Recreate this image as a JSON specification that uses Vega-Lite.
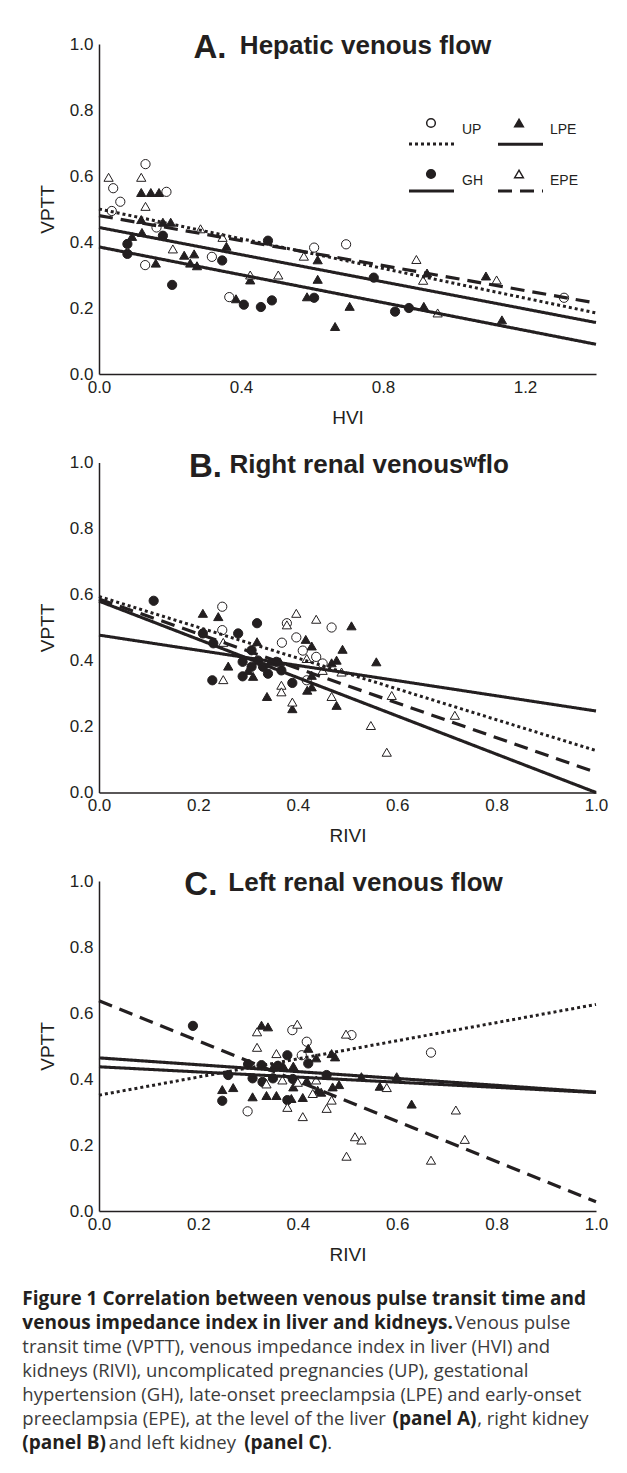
{
  "$schema": "https://vega.github.io/schema/vega-lite/v6.json",
  "background": "white",
  "padding": {"left": 22, "top": 32, "right": 5, "bottom": 5},
  "spacing": 23.5,
  "title": {
    "text": ["Figure 1 Correlation between venous pulse transit time and", "venous impedance index in liver and kidneys.", "\u200b", "\u200b", "\u200b", "\u200b\u00a0\u00a0\u00a0\u00a0\u00a0\u00a0\u00a0\u00a0\u00a0\u00a0\u00a0\u00a0\u00a0\u00a0\u00a0\u00a0\u00a0\u00a0\u00a0\u00a0\u00a0\u00a0\u00a0\u00a0\u00a0\u00a0\u00a0\u00a0\u00a0\u00a0\u00a0\u00a0\u00a0\u00a0\u00a0\u00a0\u00a0\u00a0\u00a0\u00a0\u00a0\u00a0\u00a0\u00a0\u00a0\u00a0\u00a0\u00a0\u00a0\u00a0\u00a0\u00a0\u00a0\u00a0\u00a0\u00a0\u00a0\u00a0\u00a0\u00a0\u00a0\u00a0\u00a0\u00a0\u00a0\u00a0\u00a0\u00a0\u00a0\u00a0\u00a0\u00a0\u00a0\u00a0\u00a0(panel A)", "(panel B)\u00a0\u00a0\u00a0\u00a0\u00a0\u00a0\u00a0\u00a0\u00a0\u00a0\u00a0\u00a0\u00a0\u00a0\u00a0\u00a0\u00a0\u00a0\u00a0\u00a0\u00a0\u00a0\u00a0\u00a0\u00a0\u00a0\u00a0\u00a0(panel C)"],
    "subtitle": ["\u200b\u00a0\u00a0\u00a0\u00a0\u00a0\u00a0\u00a0\u00a0\u00a0\u00a0\u00a0\u00a0\u00a0\u00a0\u00a0\u00a0\u00a0\u00a0\u00a0\u00a0\u00a0\u00a0\u00a0\u00a0\u00a0\u00a0\u00a0\u00a0\u00a0\u00a0\u00a0\u00a0\u00a0\u00a0\u00a0\u00a0\u00a0\u00a0\u00a0\u00a0\u00a0\u00a0\u00a0\u00a0\u00a0\u00a0\u00a0\u00a0\u00a0\u00a0\u00a0\u00a0\u00a0\u00a0\u00a0\u00a0\u00a0\u00a0\u00a0\u00a0\u00a0\u00a0\u00a0\u00a0\u00a0\u00a0\u00a0\u00a0\u00a0\u00a0\u00a0\u00a0\u00a0\u00a0\u00a0\u00a0\u00a0\u00a0\u00a0\u00a0\u00a0\u00a0\u00a0\u00a0\u00a0\u00a0\u00a0\u00a0\u00a0\u00a0Venous pulse", "transit time (VPTT), venous impedance index in liver (HVI) and", "kidneys (RIVI), uncomplicated pregnancies (UP), gestational", "hypertension (GH), late-onset preeclampsia (LPE) and early-onset", "preeclampsia (EPE), at the level of the liver\u00a0\u00a0\u00a0\u00a0\u00a0\u00a0\u00a0\u00a0\u00a0\u00a0\u00a0\u00a0\u00a0\u00a0\u00a0\u00a0\u00a0\u00a0\u00a0, right kidney", "\u200b\u00a0\u00a0\u00a0\u00a0\u00a0\u00a0\u00a0\u00a0\u00a0\u00a0\u00a0\u00a0\u00a0\u00a0\u00a0\u00a0\u00a0\u00a0and left kidney\u00a0\u00a0\u00a0\u00a0\u00a0\u00a0\u00a0\u00a0\u00a0\u00a0\u00a0\u00a0\u00a0\u00a0\u00a0\u00a0\u00a0\u00a0\u00a0."],
    "orient": "bottom",
    "anchor": "start",
    "frame": "bounds",
    "offset": 26,
    "font": "Open Sans",
    "fontSize": 19,
    "fontWeight": "bold",
    "color": "#231f20",
    "lineHeight": 24,
    "subtitleFont": "Open Sans",
    "subtitleFontSize": 18.5,
    "subtitleFontWeight": "normal",
    "subtitleColor": "#3b3b3b",
    "subtitleLineHeight": 24,
    "subtitlePadding": -139
  },
  "datasets": {
    "pointsA": [
      {"group": "UP", "HVI": 0.036, "VPTT": 0.494}, {"group": "UP", "HVI": 0.04, "VPTT": 0.563}, {"group": "UP", "HVI": 0.06, "VPTT": 0.522}, {"group": "UP", "HVI": 0.131, "VPTT": 0.636}, {"group": "UP", "HVI": 0.19, "VPTT": 0.552}, {"group": "UP", "HVI": 0.162, "VPTT": 0.444}, {"group": "UP", "HVI": 0.13, "VPTT": 0.33}, {"group": "UP", "HVI": 0.318, "VPTT": 0.355}, {"group": "UP", "HVI": 0.367, "VPTT": 0.233}, {"group": "UP", "HVI": 0.606, "VPTT": 0.383}, {"group": "UP", "HVI": 0.696, "VPTT": 0.393}, {"group": "UP", "HVI": 1.31, "VPTT": 0.231},
      {"group": "GH", "HVI": 0.08, "VPTT": 0.394}, {"group": "GH", "HVI": 0.08, "VPTT": 0.364}, {"group": "GH", "HVI": 0.18, "VPTT": 0.419}, {"group": "GH", "HVI": 0.206, "VPTT": 0.27}, {"group": "GH", "HVI": 0.347, "VPTT": 0.344}, {"group": "GH", "HVI": 0.408, "VPTT": 0.21}, {"group": "GH", "HVI": 0.456, "VPTT": 0.203}, {"group": "GH", "HVI": 0.487, "VPTT": 0.223}, {"group": "GH", "HVI": 0.476, "VPTT": 0.404}, {"group": "GH", "HVI": 0.606, "VPTT": 0.231}, {"group": "GH", "HVI": 0.774, "VPTT": 0.292}, {"group": "GH", "HVI": 0.834, "VPTT": 0.189}, {"group": "GH", "HVI": 0.873, "VPTT": 0.2},
      {"group": "LPE", "HVI": 0.119, "VPTT": 0.55}, {"group": "LPE", "HVI": 0.146, "VPTT": 0.55}, {"group": "LPE", "HVI": 0.169, "VPTT": 0.55}, {"group": "LPE", "HVI": 0.119, "VPTT": 0.468}, {"group": "LPE", "HVI": 0.18, "VPTT": 0.46}, {"group": "LPE", "HVI": 0.202, "VPTT": 0.46}, {"group": "LPE", "HVI": 0.121, "VPTT": 0.429}, {"group": "LPE", "HVI": 0.093, "VPTT": 0.417}, {"group": "LPE", "HVI": 0.16, "VPTT": 0.336}, {"group": "LPE", "HVI": 0.24, "VPTT": 0.36}, {"group": "LPE", "HVI": 0.268, "VPTT": 0.364}, {"group": "LPE", "HVI": 0.257, "VPTT": 0.336}, {"group": "LPE", "HVI": 0.276, "VPTT": 0.328}, {"group": "LPE", "HVI": 0.359, "VPTT": 0.387}, {"group": "LPE", "HVI": 0.386, "VPTT": 0.228}, {"group": "LPE", "HVI": 0.426, "VPTT": 0.285}, {"group": "LPE", "HVI": 0.586, "VPTT": 0.234}, {"group": "LPE", "HVI": 0.616, "VPTT": 0.346}, {"group": "LPE", "HVI": 0.616, "VPTT": 0.287}, {"group": "LPE", "HVI": 0.665, "VPTT": 0.144}, {"group": "LPE", "HVI": 0.706, "VPTT": 0.205}, {"group": "LPE", "HVI": 0.915, "VPTT": 0.205}, {"group": "LPE", "HVI": 0.924, "VPTT": 0.306}, {"group": "LPE", "HVI": 1.09, "VPTT": 0.297}, {"group": "LPE", "HVI": 1.135, "VPTT": 0.164},
      {"group": "EPE", "HVI": 0.027, "VPTT": 0.596}, {"group": "EPE", "HVI": 0.119, "VPTT": 0.596}, {"group": "EPE", "HVI": 0.131, "VPTT": 0.508}, {"group": "EPE", "HVI": 0.208, "VPTT": 0.379}, {"group": "EPE", "HVI": 0.286, "VPTT": 0.44}, {"group": "EPE", "HVI": 0.348, "VPTT": 0.414}, {"group": "EPE", "HVI": 0.426, "VPTT": 0.3}, {"group": "EPE", "HVI": 0.505, "VPTT": 0.3}, {"group": "EPE", "HVI": 0.577, "VPTT": 0.357}, {"group": "EPE", "HVI": 0.894, "VPTT": 0.347}, {"group": "EPE", "HVI": 0.913, "VPTT": 0.284}, {"group": "EPE", "HVI": 0.954, "VPTT": 0.185}, {"group": "EPE", "HVI": 1.12, "VPTT": 0.285}
    ],
    "linesA": [
      {"group": "UP", "HVI": 0, "VPTT": 0.5}, {"group": "UP", "HVI": 1.4, "VPTT": 0.185},
      {"group": "EPE", "HVI": 0, "VPTT": 0.48}, {"group": "EPE", "HVI": 1.4, "VPTT": 0.215},
      {"group": "LPE", "HVI": 0, "VPTT": 0.444}, {"group": "LPE", "HVI": 1.4, "VPTT": 0.156},
      {"group": "GH", "HVI": 0, "VPTT": 0.385}, {"group": "GH", "HVI": 1.4, "VPTT": 0.09}
    ],
    "pointsB": [
      {"group": "UP", "RIVI": 0.248, "VPTT": 0.563}, {"group": "UP", "RIVI": 0.248, "VPTT": 0.492}, {"group": "UP", "RIVI": 0.378, "VPTT": 0.513}, {"group": "UP", "RIVI": 0.397, "VPTT": 0.47}, {"group": "UP", "RIVI": 0.368, "VPTT": 0.454}, {"group": "UP", "RIVI": 0.468, "VPTT": 0.5}, {"group": "UP", "RIVI": 0.437, "VPTT": 0.411}, {"group": "UP", "RIVI": 0.45, "VPTT": 0.391}, {"group": "UP", "RIVI": 0.418, "VPTT": 0.34}, {"group": "UP", "RIVI": 0.41, "VPTT": 0.43},
      {"group": "GH", "RIVI": 0.11, "VPTT": 0.581}, {"group": "GH", "RIVI": 0.209, "VPTT": 0.482}, {"group": "GH", "RIVI": 0.23, "VPTT": 0.452}, {"group": "GH", "RIVI": 0.28, "VPTT": 0.482}, {"group": "GH", "RIVI": 0.318, "VPTT": 0.513}, {"group": "GH", "RIVI": 0.307, "VPTT": 0.431}, {"group": "GH", "RIVI": 0.228, "VPTT": 0.34}, {"group": "GH", "RIVI": 0.289, "VPTT": 0.396}, {"group": "GH", "RIVI": 0.289, "VPTT": 0.352}, {"group": "GH", "RIVI": 0.307, "VPTT": 0.381}, {"group": "GH", "RIVI": 0.33, "VPTT": 0.381}, {"group": "GH", "RIVI": 0.34, "VPTT": 0.36}, {"group": "GH", "RIVI": 0.357, "VPTT": 0.396}, {"group": "GH", "RIVI": 0.367, "VPTT": 0.37}, {"group": "GH", "RIVI": 0.389, "VPTT": 0.332}, {"group": "GH", "RIVI": 0.32, "VPTT": 0.4},
      {"group": "LPE", "RIVI": 0.209, "VPTT": 0.543}, {"group": "LPE", "RIVI": 0.24, "VPTT": 0.533}, {"group": "LPE", "RIVI": 0.318, "VPTT": 0.457}, {"group": "LPE", "RIVI": 0.26, "VPTT": 0.383}, {"group": "LPE", "RIVI": 0.31, "VPTT": 0.352}, {"group": "LPE", "RIVI": 0.344, "VPTT": 0.396}, {"group": "LPE", "RIVI": 0.364, "VPTT": 0.396}, {"group": "LPE", "RIVI": 0.338, "VPTT": 0.291}, {"group": "LPE", "RIVI": 0.389, "VPTT": 0.254}, {"group": "LPE", "RIVI": 0.416, "VPTT": 0.464}, {"group": "LPE", "RIVI": 0.428, "VPTT": 0.444}, {"group": "LPE", "RIVI": 0.508, "VPTT": 0.505}, {"group": "LPE", "RIVI": 0.49, "VPTT": 0.434}, {"group": "LPE", "RIVI": 0.478, "VPTT": 0.401}, {"group": "LPE", "RIVI": 0.468, "VPTT": 0.393}, {"group": "LPE", "RIVI": 0.428, "VPTT": 0.355}, {"group": "LPE", "RIVI": 0.428, "VPTT": 0.32}, {"group": "LPE", "RIVI": 0.419, "VPTT": 0.31}, {"group": "LPE", "RIVI": 0.478, "VPTT": 0.264}, {"group": "LPE", "RIVI": 0.558, "VPTT": 0.396}, {"group": "LPE", "RIVI": 0.3, "VPTT": 0.37},
      {"group": "EPE", "RIVI": 0.25, "VPTT": 0.342}, {"group": "EPE", "RIVI": 0.25, "VPTT": 0.455}, {"group": "EPE", "RIVI": 0.367, "VPTT": 0.325}, {"group": "EPE", "RIVI": 0.367, "VPTT": 0.305}, {"group": "EPE", "RIVI": 0.389, "VPTT": 0.274}, {"group": "EPE", "RIVI": 0.397, "VPTT": 0.543}, {"group": "EPE", "RIVI": 0.378, "VPTT": 0.508}, {"group": "EPE", "RIVI": 0.437, "VPTT": 0.525}, {"group": "EPE", "RIVI": 0.418, "VPTT": 0.406}, {"group": "EPE", "RIVI": 0.468, "VPTT": 0.291}, {"group": "EPE", "RIVI": 0.488, "VPTT": 0.365}, {"group": "EPE", "RIVI": 0.589, "VPTT": 0.294}, {"group": "EPE", "RIVI": 0.716, "VPTT": 0.234}, {"group": "EPE", "RIVI": 0.547, "VPTT": 0.203}, {"group": "EPE", "RIVI": 0.579, "VPTT": 0.122}, {"group": "EPE", "RIVI": 0.45, "VPTT": 0.37}
    ],
    "linesB": [
      {"group": "UP", "RIVI": 0, "VPTT": 0.594}, {"group": "UP", "RIVI": 1, "VPTT": 0.127},
      {"group": "EPE", "RIVI": 0, "VPTT": 0.586}, {"group": "EPE", "RIVI": 1, "VPTT": 0.061},
      {"group": "GH", "RIVI": 0, "VPTT": 0.58}, {"group": "GH", "RIVI": 1, "VPTT": 0.0},
      {"group": "LPE", "RIVI": 0, "VPTT": 0.477}, {"group": "LPE", "RIVI": 1, "VPTT": 0.247}
    ],
    "pointsC": [
      {"group": "UP", "RIVI": 0.299, "VPTT": 0.302}, {"group": "UP", "RIVI": 0.389, "VPTT": 0.548}, {"group": "UP", "RIVI": 0.418, "VPTT": 0.513}, {"group": "UP", "RIVI": 0.408, "VPTT": 0.472}, {"group": "UP", "RIVI": 0.508, "VPTT": 0.533}, {"group": "UP", "RIVI": 0.668, "VPTT": 0.48},
      {"group": "GH", "RIVI": 0.189, "VPTT": 0.561}, {"group": "GH", "RIVI": 0.248, "VPTT": 0.334}, {"group": "GH", "RIVI": 0.26, "VPTT": 0.412}, {"group": "GH", "RIVI": 0.3, "VPTT": 0.445}, {"group": "GH", "RIVI": 0.309, "VPTT": 0.402}, {"group": "GH", "RIVI": 0.327, "VPTT": 0.442}, {"group": "GH", "RIVI": 0.329, "VPTT": 0.391}, {"group": "GH", "RIVI": 0.35, "VPTT": 0.402}, {"group": "GH", "RIVI": 0.379, "VPTT": 0.472}, {"group": "GH", "RIVI": 0.379, "VPTT": 0.336}, {"group": "GH", "RIVI": 0.421, "VPTT": 0.447}, {"group": "GH", "RIVI": 0.458, "VPTT": 0.412}, {"group": "GH", "RIVI": 0.39, "VPTT": 0.4}, {"group": "GH", "RIVI": 0.36, "VPTT": 0.44},
      {"group": "LPE", "RIVI": 0.327, "VPTT": 0.563}, {"group": "LPE", "RIVI": 0.34, "VPTT": 0.558}, {"group": "LPE", "RIVI": 0.248, "VPTT": 0.368}, {"group": "LPE", "RIVI": 0.27, "VPTT": 0.374}, {"group": "LPE", "RIVI": 0.309, "VPTT": 0.346}, {"group": "LPE", "RIVI": 0.337, "VPTT": 0.35}, {"group": "LPE", "RIVI": 0.357, "VPTT": 0.35}, {"group": "LPE", "RIVI": 0.35, "VPTT": 0.436}, {"group": "LPE", "RIVI": 0.371, "VPTT": 0.439}, {"group": "LPE", "RIVI": 0.391, "VPTT": 0.439}, {"group": "LPE", "RIVI": 0.387, "VPTT": 0.341}, {"group": "LPE", "RIVI": 0.41, "VPTT": 0.344}, {"group": "LPE", "RIVI": 0.391, "VPTT": 0.376}, {"group": "LPE", "RIVI": 0.418, "VPTT": 0.395}, {"group": "LPE", "RIVI": 0.421, "VPTT": 0.493}, {"group": "LPE", "RIVI": 0.437, "VPTT": 0.464}, {"group": "LPE", "RIVI": 0.468, "VPTT": 0.477}, {"group": "LPE", "RIVI": 0.475, "VPTT": 0.467}, {"group": "LPE", "RIVI": 0.44, "VPTT": 0.366}, {"group": "LPE", "RIVI": 0.447, "VPTT": 0.36}, {"group": "LPE", "RIVI": 0.47, "VPTT": 0.376}, {"group": "LPE", "RIVI": 0.483, "VPTT": 0.383}, {"group": "LPE", "RIVI": 0.528, "VPTT": 0.407}, {"group": "LPE", "RIVI": 0.565, "VPTT": 0.378}, {"group": "LPE", "RIVI": 0.599, "VPTT": 0.407}, {"group": "LPE", "RIVI": 0.629, "VPTT": 0.324},
      {"group": "EPE", "RIVI": 0.318, "VPTT": 0.543}, {"group": "EPE", "RIVI": 0.318, "VPTT": 0.496}, {"group": "EPE", "RIVI": 0.357, "VPTT": 0.477}, {"group": "EPE", "RIVI": 0.399, "VPTT": 0.566}, {"group": "EPE", "RIVI": 0.337, "VPTT": 0.385}, {"group": "EPE", "RIVI": 0.369, "VPTT": 0.397}, {"group": "EPE", "RIVI": 0.4, "VPTT": 0.39}, {"group": "EPE", "RIVI": 0.43, "VPTT": 0.356}, {"group": "EPE", "RIVI": 0.437, "VPTT": 0.397}, {"group": "EPE", "RIVI": 0.379, "VPTT": 0.314}, {"group": "EPE", "RIVI": 0.41, "VPTT": 0.286}, {"group": "EPE", "RIVI": 0.458, "VPTT": 0.311}, {"group": "EPE", "RIVI": 0.468, "VPTT": 0.336}, {"group": "EPE", "RIVI": 0.497, "VPTT": 0.536}, {"group": "EPE", "RIVI": 0.579, "VPTT": 0.374}, {"group": "EPE", "RIVI": 0.515, "VPTT": 0.225}, {"group": "EPE", "RIVI": 0.528, "VPTT": 0.215}, {"group": "EPE", "RIVI": 0.498, "VPTT": 0.166}, {"group": "EPE", "RIVI": 0.668, "VPTT": 0.154}, {"group": "EPE", "RIVI": 0.718, "VPTT": 0.306}, {"group": "EPE", "RIVI": 0.736, "VPTT": 0.217}
    ],
    "linesC": [
      {"group": "EPE", "RIVI": 0, "VPTT": 0.637}, {"group": "EPE", "RIVI": 1, "VPTT": 0.028},
      {"group": "UP", "RIVI": 0, "VPTT": 0.351}, {"group": "UP", "RIVI": 1, "VPTT": 0.626},
      {"group": "GH", "RIVI": 0, "VPTT": 0.464}, {"group": "GH", "RIVI": 1, "VPTT": 0.36},
      {"group": "LPE", "RIVI": 0, "VPTT": 0.437}, {"group": "LPE", "RIVI": 1, "VPTT": 0.359}
    ]
  },
  "resolve": {
    "scale": {"shape": "independent", "fill": "independent", "strokeDash": "independent", "strokeWidth": "independent"},
    "legend": {"shape": "independent", "fill": "independent", "strokeDash": "independent", "strokeWidth": "independent"}
  },
  "vconcat": [
    {
      "width": 497,
      "height": 330,
      "title": {"text": "A.\u00a0\u00a0\u00a0\u00a0\u00a0\u00a0\u00a0\u00a0\u00a0\u00a0\u00a0\u00a0\u00a0\u00a0\u00a0\u00a0\u00a0\u00a0\u00a0\u00a0\u00a0\u00a0\u00a0\u00a0\u00a0\u00a0\u00a0\u00a0\u00a0\u00a0\u200b", "subtitle": "\u200b\u00a0\u00a0\u00a0\u00a0\u00a0Hepatic venous flow"},
      "layer": [
        {
          "data": {"name": "pointsA"},
          "mark": {"type": "point", "filled": true, "stroke": "#231f20", "strokeWidth": 1, "size": 85, "opacity": 1},
          "encoding": {
            "x": {"field": "HVI", "type": "quantitative", "scale": {"domain": [0, 1.4], "nice": false, "zero": false}, "axis": {"values": [0, 0.4, 0.8, 1.2], "format": ".1f", "title": "HVI"}},
            "y": {"field": "VPTT", "type": "quantitative", "scale": {"domain": [0, 1], "nice": false}, "axis": {"values": [0, 0.2, 0.4, 0.6, 0.8, 1], "format": ".1f", "title": ["\u00a0", "VPTT"]}},
            "shape": {"field": "group", "type": "nominal", "scale": {"domain": ["UP", "GH", "LPE", "EPE"], "range": ["circle", "circle", "triangle-up", "triangle-up"]},
              "legend": {"orient": "none", "legendX": 325, "legendY": 72, "columns": 2, "title": null, "padding": 0, "labelFont": "Liberation Sans", "labelFontSize": 14, "labelColor": "#231f20", "labelOffset": 24, "labelBaseline": "top", "columnPadding": 28, "rowPadding": 29, "symbolSize": 75, "encode": {"symbols": {"update": {"stroke": {"value": "#231f20"}, "strokeWidth": {"value": 1}}}}}},
            "fill": {"field": "group", "type": "nominal", "scale": {"domain": ["UP", "GH", "LPE", "EPE"], "range": ["white", "#231f20", "#231f20", "white"]},
              "legend": {"orient": "none", "legendX": 325, "legendY": 72, "columns": 2, "title": null, "padding": 0, "labelFont": "Liberation Sans", "labelFontSize": 14, "labelColor": "#231f20", "labelOffset": 24, "labelBaseline": "top", "columnPadding": 28, "rowPadding": 29, "symbolSize": 75, "encode": {"symbols": {"update": {"stroke": {"value": "#231f20"}, "strokeWidth": {"value": 1}}}}}}
          }
        },
        {
          "data": {"name": "linesA"},
          "mark": {"type": "line", "color": "#231f20"},
          "encoding": {
            "x": {"field": "HVI", "type": "quantitative"},
            "y": {"field": "VPTT", "type": "quantitative"},
            "strokeDash": {"field": "group", "type": "nominal", "scale": {"domain": ["UP", "LPE", "GH", "EPE"], "range": [[3, 3], [1, 0], [1, 0], [14, 8]]},
              "legend": {"orient": "none", "legendX": 308, "legendY": 75.5, "columns": 2, "direction": "horizontal", "title": null, "padding": 0, "symbolType": "stroke", "symbolSize": 2025, "labelFont": "Liberation Sans", "labelFontSize": 14, "labelOpacity": 0, "labelOffset": 5, "columnPadding": 9, "rowPadding": 15, "encode": {"symbols": {"update": {"stroke": {"value": "#231f20"}}}}}},
            "strokeWidth": {"field": "group", "type": "ordinal", "scale": {"domain": ["UP", "LPE", "GH", "EPE"], "range": [3, 3.2, 1.3, 3]},
              "legend": {"orient": "none", "legendX": 308, "legendY": 75.5, "columns": 2, "direction": "horizontal", "title": null, "padding": 0, "symbolType": "stroke", "symbolSize": 2025, "labelFont": "Liberation Sans", "labelFontSize": 14, "labelOpacity": 0, "labelOffset": 5, "columnPadding": 9, "rowPadding": 15, "encode": {"symbols": {"update": {"stroke": {"value": "#231f20"}}}}}}
          }
        }
      ]
    },
    {
      "width": 497,
      "height": 330,
      "title": {"text": "B.\u00a0\u00a0\u00a0\u00a0\u00a0\u00a0\u00a0\u00a0\u00a0\u00a0\u00a0\u00a0\u00a0\u00a0\u00a0\u00a0\u00a0\u00a0\u00a0\u00a0\u00a0\u00a0\u00a0\u00a0\u00a0\u00a0\u00a0\u00a0\u00a0\u00a0\u00a0\u200b", "subtitle": "\u200b\u00a0\u00a0\u00a0\u00a0\u00a0\u00a0Right renal venous\u02b7flo"},
      "layer": [
        {
          "data": {"name": "pointsB"},
          "mark": {"type": "point", "filled": true, "stroke": "#231f20", "strokeWidth": 1, "size": 85, "opacity": 1},
          "encoding": {
            "x": {"field": "RIVI", "type": "quantitative", "scale": {"domain": [0, 1], "nice": false}, "axis": {"values": [0, 0.2, 0.4, 0.6, 0.8, 1], "format": ".1f", "title": "RIVI"}},
            "y": {"field": "VPTT", "type": "quantitative", "scale": {"domain": [0, 1], "nice": false}, "axis": {"values": [0, 0.2, 0.4, 0.6, 0.8, 1], "format": ".1f", "title": ["\u00a0", "VPTT"]}},
            "shape": {"field": "group", "type": "nominal", "scale": {"domain": ["UP", "GH", "LPE", "EPE"], "range": ["circle", "circle", "triangle-up", "triangle-up"]}, "legend": null},
            "fill": {"field": "group", "type": "nominal", "scale": {"domain": ["UP", "GH", "LPE", "EPE"], "range": ["white", "#231f20", "#231f20", "white"]}, "legend": null}
          }
        },
        {
          "data": {"name": "linesB"},
          "mark": {"type": "line", "color": "#231f20"},
          "encoding": {
            "x": {"field": "RIVI", "type": "quantitative"},
            "y": {"field": "VPTT", "type": "quantitative"},
            "strokeDash": {"field": "group", "type": "nominal", "scale": {"domain": ["UP", "LPE", "GH", "EPE"], "range": [[3, 3], [1, 0], [1, 0], [14, 8]]}, "legend": null},
            "strokeWidth": {"field": "group", "type": "ordinal", "scale": {"domain": ["UP", "LPE", "GH", "EPE"], "range": [3, 3.2, 1.3, 3]}, "legend": null}
          }
        }
      ]
    },
    {
      "width": 497,
      "height": 330,
      "title": {"text": "C.\u00a0\u00a0\u00a0\u00a0\u00a0\u00a0\u00a0\u00a0\u00a0\u00a0\u00a0\u00a0\u00a0\u00a0\u00a0\u00a0\u00a0\u00a0\u00a0\u00a0\u00a0\u00a0\u00a0\u00a0\u00a0\u00a0\u00a0\u00a0\u00a0\u00a0\u00a0\u00a0\u200b", "subtitle": "\u200b\u00a0\u00a0\u00a0\u00a0\u00a0Left renal venous flow"},
      "layer": [
        {
          "data": {"name": "pointsC"},
          "mark": {"type": "point", "filled": true, "stroke": "#231f20", "strokeWidth": 1, "size": 85, "opacity": 1},
          "encoding": {
            "x": {"field": "RIVI", "type": "quantitative", "scale": {"domain": [0, 1], "nice": false}, "axis": {"values": [0, 0.2, 0.4, 0.6, 0.8, 1], "format": ".1f", "title": "RIVI"}},
            "y": {"field": "VPTT", "type": "quantitative", "scale": {"domain": [0, 1], "nice": false}, "axis": {"values": [0, 0.2, 0.4, 0.6, 0.8, 1], "format": ".1f", "title": ["\u00a0", "VPTT"]}},
            "shape": {"field": "group", "type": "nominal", "scale": {"domain": ["UP", "GH", "LPE", "EPE"], "range": ["circle", "circle", "triangle-up", "triangle-up"]}, "legend": null},
            "fill": {"field": "group", "type": "nominal", "scale": {"domain": ["UP", "GH", "LPE", "EPE"], "range": ["white", "#231f20", "#231f20", "white"]}, "legend": null}
          }
        },
        {
          "data": {"name": "linesC"},
          "mark": {"type": "line", "color": "#231f20"},
          "encoding": {
            "x": {"field": "RIVI", "type": "quantitative"},
            "y": {"field": "VPTT", "type": "quantitative"},
            "strokeDash": {"field": "group", "type": "nominal", "scale": {"domain": ["UP", "LPE", "GH", "EPE"], "range": [[3, 3], [1, 0], [1, 0], [14, 8]]}, "legend": null},
            "strokeWidth": {"field": "group", "type": "ordinal", "scale": {"domain": ["UP", "LPE", "GH", "EPE"], "range": [3, 3.2, 1.3, 3]}, "legend": null}
          }
        }
      ]
    }
  ],
  "config": {
    "view": {"stroke": null},
    "font": "Liberation Sans",
    "axis": {"grid": false, "ticks": false, "domainColor": "#231f20", "domainWidth": 1.5, "labelFont": "Liberation Sans", "labelFontSize": 17, "labelColor": "#231f20", "labelFlush": false, "labelOverlap": false, "titleFont": "Liberation Sans", "titleFontSize": 19, "titleFontWeight": "normal", "titleColor": "#231f20"},
    "axisX": {"labelPadding": 5, "titlePadding": 13},
    "axisY": {"labelPadding": 6, "titlePadding": 12, "titleLineHeight": 16},
    "title": {"font": "Liberation Sans", "fontSize": 33, "fontWeight": "bold", "color": "#231f20", "subtitleFont": "Liberation Sans", "subtitleFontSize": 26, "subtitleFontWeight": "bold", "subtitleColor": "#231f20", "subtitlePadding": -32, "offset": -30, "anchor": "middle"}
  }
}
